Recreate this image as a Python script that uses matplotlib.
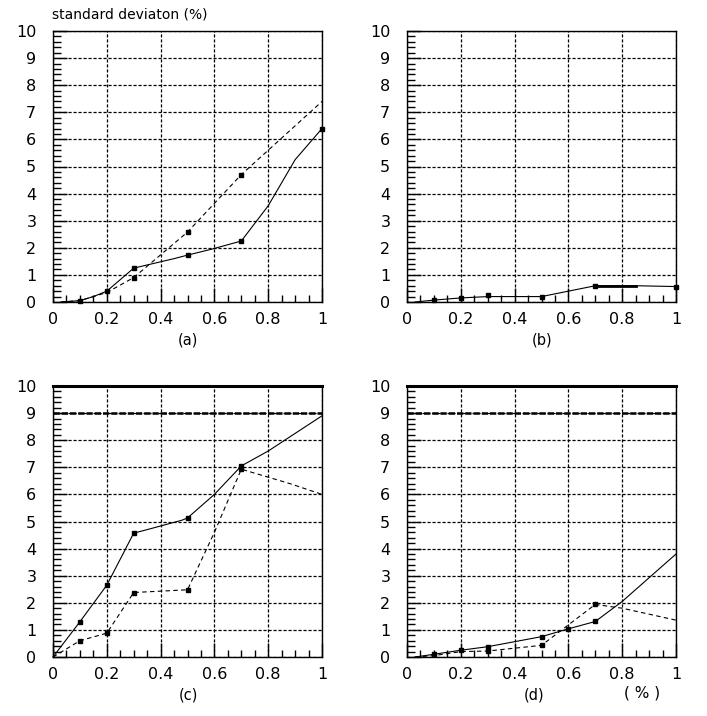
import matplotlib.pyplot as plt
from matplotlib.ticker import MultipleLocator
import numpy as np

# panel (a)
a_solid_x = [0.03, 0.1, 0.15, 0.2, 0.3, 0.45, 0.5, 0.59, 0.7, 0.8, 0.9, 1.0]
a_solid_y = [0.0, 0.05, 0.2, 0.4, 1.25, 1.6, 1.73, 1.95, 2.25, 3.55, 5.25, 6.4]
a_dash_x = [0.03, 0.1, 0.2, 0.3, 0.5, 0.7, 1.0]
a_dash_y = [0.0, 0.05, 0.35, 0.9, 2.58, 4.7, 7.4]
a_solid_mk_x = [0.1, 0.2, 0.3, 0.5, 0.7, 1.0]
a_solid_mk_y = [0.05, 0.4, 1.25, 1.73, 2.25, 6.4]
a_dash_mk_x = [0.3, 0.5, 0.7]
a_dash_mk_y = [0.9, 2.58, 4.7]

# panel (b)
b_solid_x = [0.03, 0.1, 0.2, 0.3, 0.5, 0.55, 0.7, 0.85, 1.0]
b_solid_y = [0.0, 0.07, 0.15, 0.2, 0.2, 0.3, 0.6, 0.6, 0.57]
b_thick_x = [0.7, 0.85]
b_thick_y = [0.6, 0.6]
b_mk_x = [0.1, 0.2, 0.3, 0.5, 0.7, 1.0]
b_mk_y = [0.07, 0.15, 0.25, 0.17, 0.6, 0.57]

# panel (c)
c_solid_x = [0.0, 0.1, 0.2, 0.3, 0.35, 0.48, 0.5, 0.6, 0.7, 0.8, 1.0]
c_solid_y = [0.0, 1.3, 2.65, 4.57, 4.7, 5.05, 5.13, 6.0, 7.05, 7.6, 8.9]
c_dash_x = [0.0, 0.1, 0.2, 0.3, 0.5, 0.6, 0.7, 0.88, 1.0]
c_dash_y = [0.0, 0.6, 0.88, 2.38, 2.48, 4.6, 6.93, 6.4, 6.0]
c_solid_mk_x = [0.1, 0.2, 0.3, 0.5, 0.7]
c_solid_mk_y = [1.3, 2.65, 4.57, 5.13, 7.05]
c_dash_mk_x = [0.1, 0.2, 0.3, 0.5, 0.7]
c_dash_mk_y = [0.6, 0.88, 2.38, 2.48, 6.93]

# panel (d)
d_solid_x = [0.03, 0.1, 0.2, 0.3, 0.5, 0.6, 0.7, 0.8, 1.0]
d_solid_y = [0.0, 0.1, 0.25, 0.38, 0.75, 1.04, 1.31, 2.05, 3.8]
d_dash_x = [0.03, 0.1, 0.2, 0.3, 0.5, 0.7, 0.8, 1.0]
d_dash_y = [0.0, 0.05, 0.2, 0.22, 0.43, 1.94, 1.8, 1.36]
d_solid_mk_x = [0.1, 0.2, 0.3, 0.5, 0.6, 0.7]
d_solid_mk_y = [0.1, 0.25, 0.38, 0.75, 1.04, 1.31]
d_dash_mk_x = [0.3, 0.5, 0.7]
d_dash_mk_y = [0.22, 0.43, 1.94]

x_ticks = [0, 0.2, 0.4, 0.6, 0.8, 1.0]
x_tick_labels = ["0", "0.2", "0.4", "0.6", "0.8", "1"]
y_ticks = list(range(0, 11))

fig = plt.figure(figsize=(7.07, 7.16), dpi=100)

W, H = 707.0, 716.0
def axes_at(left, top, right, bottom):
    return fig.add_axes([left / W, 1 - bottom / H, (right - left) / W, (bottom - top) / H])

ax_a = axes_at(53, 31, 322, 302)
ax_b = axes_at(407, 31, 676, 302)
ax_c = axes_at(53, 386, 322, 657)
ax_d = axes_at(407, 386, 676, 657)

def style(ax, heavy_top=False):
    ax.set_xlim(0, 1)
    ax.set_ylim(0, 10)
    ax.set_xticks(x_ticks)
    ax.set_xticklabels(x_tick_labels)
    ax.set_yticks(y_ticks)
    ax.xaxis.set_minor_locator(MultipleLocator(0.05))
    ax.yaxis.set_minor_locator(MultipleLocator(0.2))
    ax.tick_params(which='major', direction='in', length=10, width=1, top=False, right=False,
                   labelsize=11.5)
    ax.tick_params(axis='x', which='major', pad=7)
    ax.tick_params(axis='y', which='major', pad=12)
    ax.tick_params(axis='x', which='minor', direction='in', length=5, width=1, top=False)
    ax.tick_params(axis='y', which='minor', direction='in', length=6, width=1, right=False)
    ax.grid(True, which='major', color='black', linestyle=(0, (2.5, 1.5)), linewidth=0.9)
    for s in ax.spines.values():
        s.set_linewidth(1.0)
    if heavy_top:
        ax.spines['top'].set_linewidth(2.2)
        ax.axhline(9, color='black', linestyle=(0, (2.5, 0.8)), linewidth=1.8, zorder=3)

def plot_series(ax, sx, sy, mx, my, dashed=False):
    ls = (0, (4, 3)) if dashed else '-'
    ax.plot(sx, sy, color='black', linestyle=ls, linewidth=0.8, clip_on=False, zorder=4)
    ax.plot(mx, my, linestyle='none', marker='s', markersize=3, color='black',
            clip_on=False, zorder=5)

for ax in (ax_a, ax_b):
    style(ax)
for ax in (ax_c, ax_d):
    style(ax, heavy_top=True)

plot_series(ax_a, a_solid_x, a_solid_y, a_solid_mk_x, a_solid_mk_y)
plot_series(ax_a, a_dash_x, a_dash_y, a_dash_mk_x, a_dash_mk_y, dashed=True)

plot_series(ax_b, b_solid_x, b_solid_y, b_mk_x, b_mk_y)
ax_b.plot(b_thick_x, b_thick_y, color='black', linewidth=2.0, zorder=4)

plot_series(ax_c, c_solid_x, c_solid_y, c_solid_mk_x, c_solid_mk_y)
plot_series(ax_c, c_dash_x, c_dash_y, c_dash_mk_x, c_dash_mk_y, dashed=True)

plot_series(ax_d, d_solid_x, d_solid_y, d_solid_mk_x, d_solid_mk_y)
plot_series(ax_d, d_dash_x, d_dash_y, d_dash_mk_x, d_dash_mk_y, dashed=True)

# panel labels
fig.text(188 / W, 1 - 340 / H, "(a)", ha='center', va='center', fontsize=10.5)
fig.text(542 / W, 1 - 340 / H, "(b)", ha='center', va='center', fontsize=10.5)
fig.text(188 / W, 1 - 695 / H, "(c)", ha='center', va='center', fontsize=10.5)
fig.text(534 / W, 1 - 695 / H, "(d)", ha='center', va='center', fontsize=10.5)
fig.text(642 / W, 1 - 693 / H, "( % )", ha='center', va='center', fontsize=11)
fig.text(52 / W, 1 - 14 / H, "standard deviaton (%)", ha='left', va='center', fontsize=10)

fig.savefig("out.png", dpi=100)
